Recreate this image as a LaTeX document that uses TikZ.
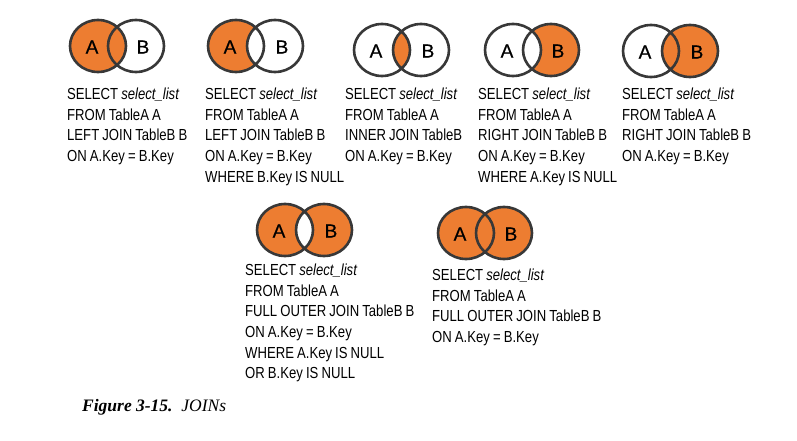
\documentclass[tikz,border=0pt]{standalone}
\usepackage{fontspec}
\usepackage{tikz}
\newfontfamily\sqlfont{Liberation Sans}[FakeStretch=0.82,WordSpace=0.85]
\newfontfamily\labfont{Liberation Sans}[FakeBold=0.6]
\newfontfamily\capfont{Liberation Serif}
\definecolor{joinc}{HTML}{ED7D31}
\definecolor{ringc}{HTML}{383838}
\begin{document}
\begin{tikzpicture}[x=1pt,y=-1pt,
  setfill/.style={fill=joinc},
  ring/.style={draw=ringc,line width=2.6pt},
  setlab/.style={font=\labfont\fontsize{19}{20}\selectfont,inner sep=0pt},
  sql/.style={font=\sqlfont\fontsize{16}{20.6}\selectfont,align=left,anchor=north west,inner sep=0pt}]
\useasboundingbox[fill=white] (0,0) rectangle (797,441);
\def\rx{28pt}\def\ry{26pt}
% centres of the two sets in every diagram
\foreach \k/\xa/\xb/\yc in {1/98/136/46,2/236/275/46,3/382/421/50,4/513/551/50,5/651/690/51,6/285/324/230,7/466/504/233}{
  \coordinate (a\k) at (\xa,\yc);
  \coordinate (b\k) at (\xb,\yc);
}
% shaded regions
\fill[setfill] (a1) ellipse[x radius=\rx,y radius=\ry];
\begin{scope}
  \clip (a2) ellipse[x radius=\rx,y radius=\ry];
  \fill[setfill,even odd rule] (a2) ellipse[x radius=\rx,y radius=\ry] (b2) ellipse[x radius=\rx,y radius=\ry];
\end{scope}
\begin{scope}
  \clip (a3) ellipse[x radius=\rx,y radius=\ry];
  \fill[setfill] (b3) ellipse[x radius=\rx,y radius=\ry];
\end{scope}
\begin{scope}
  \clip (b4) ellipse[x radius=\rx,y radius=\ry];
  \fill[setfill,even odd rule] (a4) ellipse[x radius=\rx,y radius=\ry] (b4) ellipse[x radius=\rx,y radius=\ry];
\end{scope}
\fill[setfill] (b5) ellipse[x radius=\rx,y radius=\ry];
\fill[setfill,even odd rule] (a6) ellipse[x radius=\rx,y radius=\ry] (b6) ellipse[x radius=\rx,y radius=\ry];
\fill[setfill] (a7) ellipse[x radius=\rx,y radius=\ry] (b7) ellipse[x radius=\rx,y radius=\ry];
% outlines and set letters
\foreach \k in {1,...,7}{
  \draw[ring] (a\k) ellipse[x radius=\rx,y radius=\ry] (b\k) ellipse[x radius=\rx,y radius=\ry];
  \node[setlab] (la\k) at ([xshift=-6pt,yshift=-1pt]a\k) {A};
  \node[setlab] (lb\k) at ([xshift=7pt,yshift=-1pt]b\k) {B};
}
% queries
\node[sql] (q1) at (67,88) {SELECT \textit{select\_list}\\FROM TableA A\\LEFT JOIN TableB B\\ON A.Key = B.Key};
\node[sql] (q2) at (205,88) {SELECT \textit{select\_list}\\FROM TableA A\\LEFT JOIN TableB B\\ON A.Key = B.Key\\WHERE B.Key IS NULL};
\node[sql] (q3) at (345,88) {SELECT \textit{select\_list}\\FROM TableA A\\INNER JOIN TableB\\ON A.Key = B.Key};
\node[sql] (q4) at (478,88) {SELECT \textit{select\_list}\\FROM TableA A\\RIGHT JOIN TableB B\\ON A.Key = B.Key\\WHERE A.Key IS NULL};
\node[sql] (q5) at (622,88) {SELECT \textit{select\_list}\\FROM TableA A\\RIGHT JOIN TableB B\\ON A.Key = B.Key};
\node[sql] (q6) at (245,264) {SELECT \textit{select\_list}\\FROM TableA A\\FULL OUTER JOIN TableB B\\ON A.Key = B.Key\\WHERE A.Key IS NULL\\OR B.Key IS NULL};
\node[sql] (q7) at (432,269) {SELECT \textit{select\_list}\\FROM TableA A\\FULL OUTER JOIN TableB B\\ON A.Key = B.Key};
% caption
\node[anchor=base west,inner sep=0pt,font=\capfont\fontsize{17.5}{20}\selectfont] (cap) at (82,411) {\textbf{\textit{Figure 3-15.}}\enspace\textit{JOINs}};
\end{tikzpicture}
\end{document}
